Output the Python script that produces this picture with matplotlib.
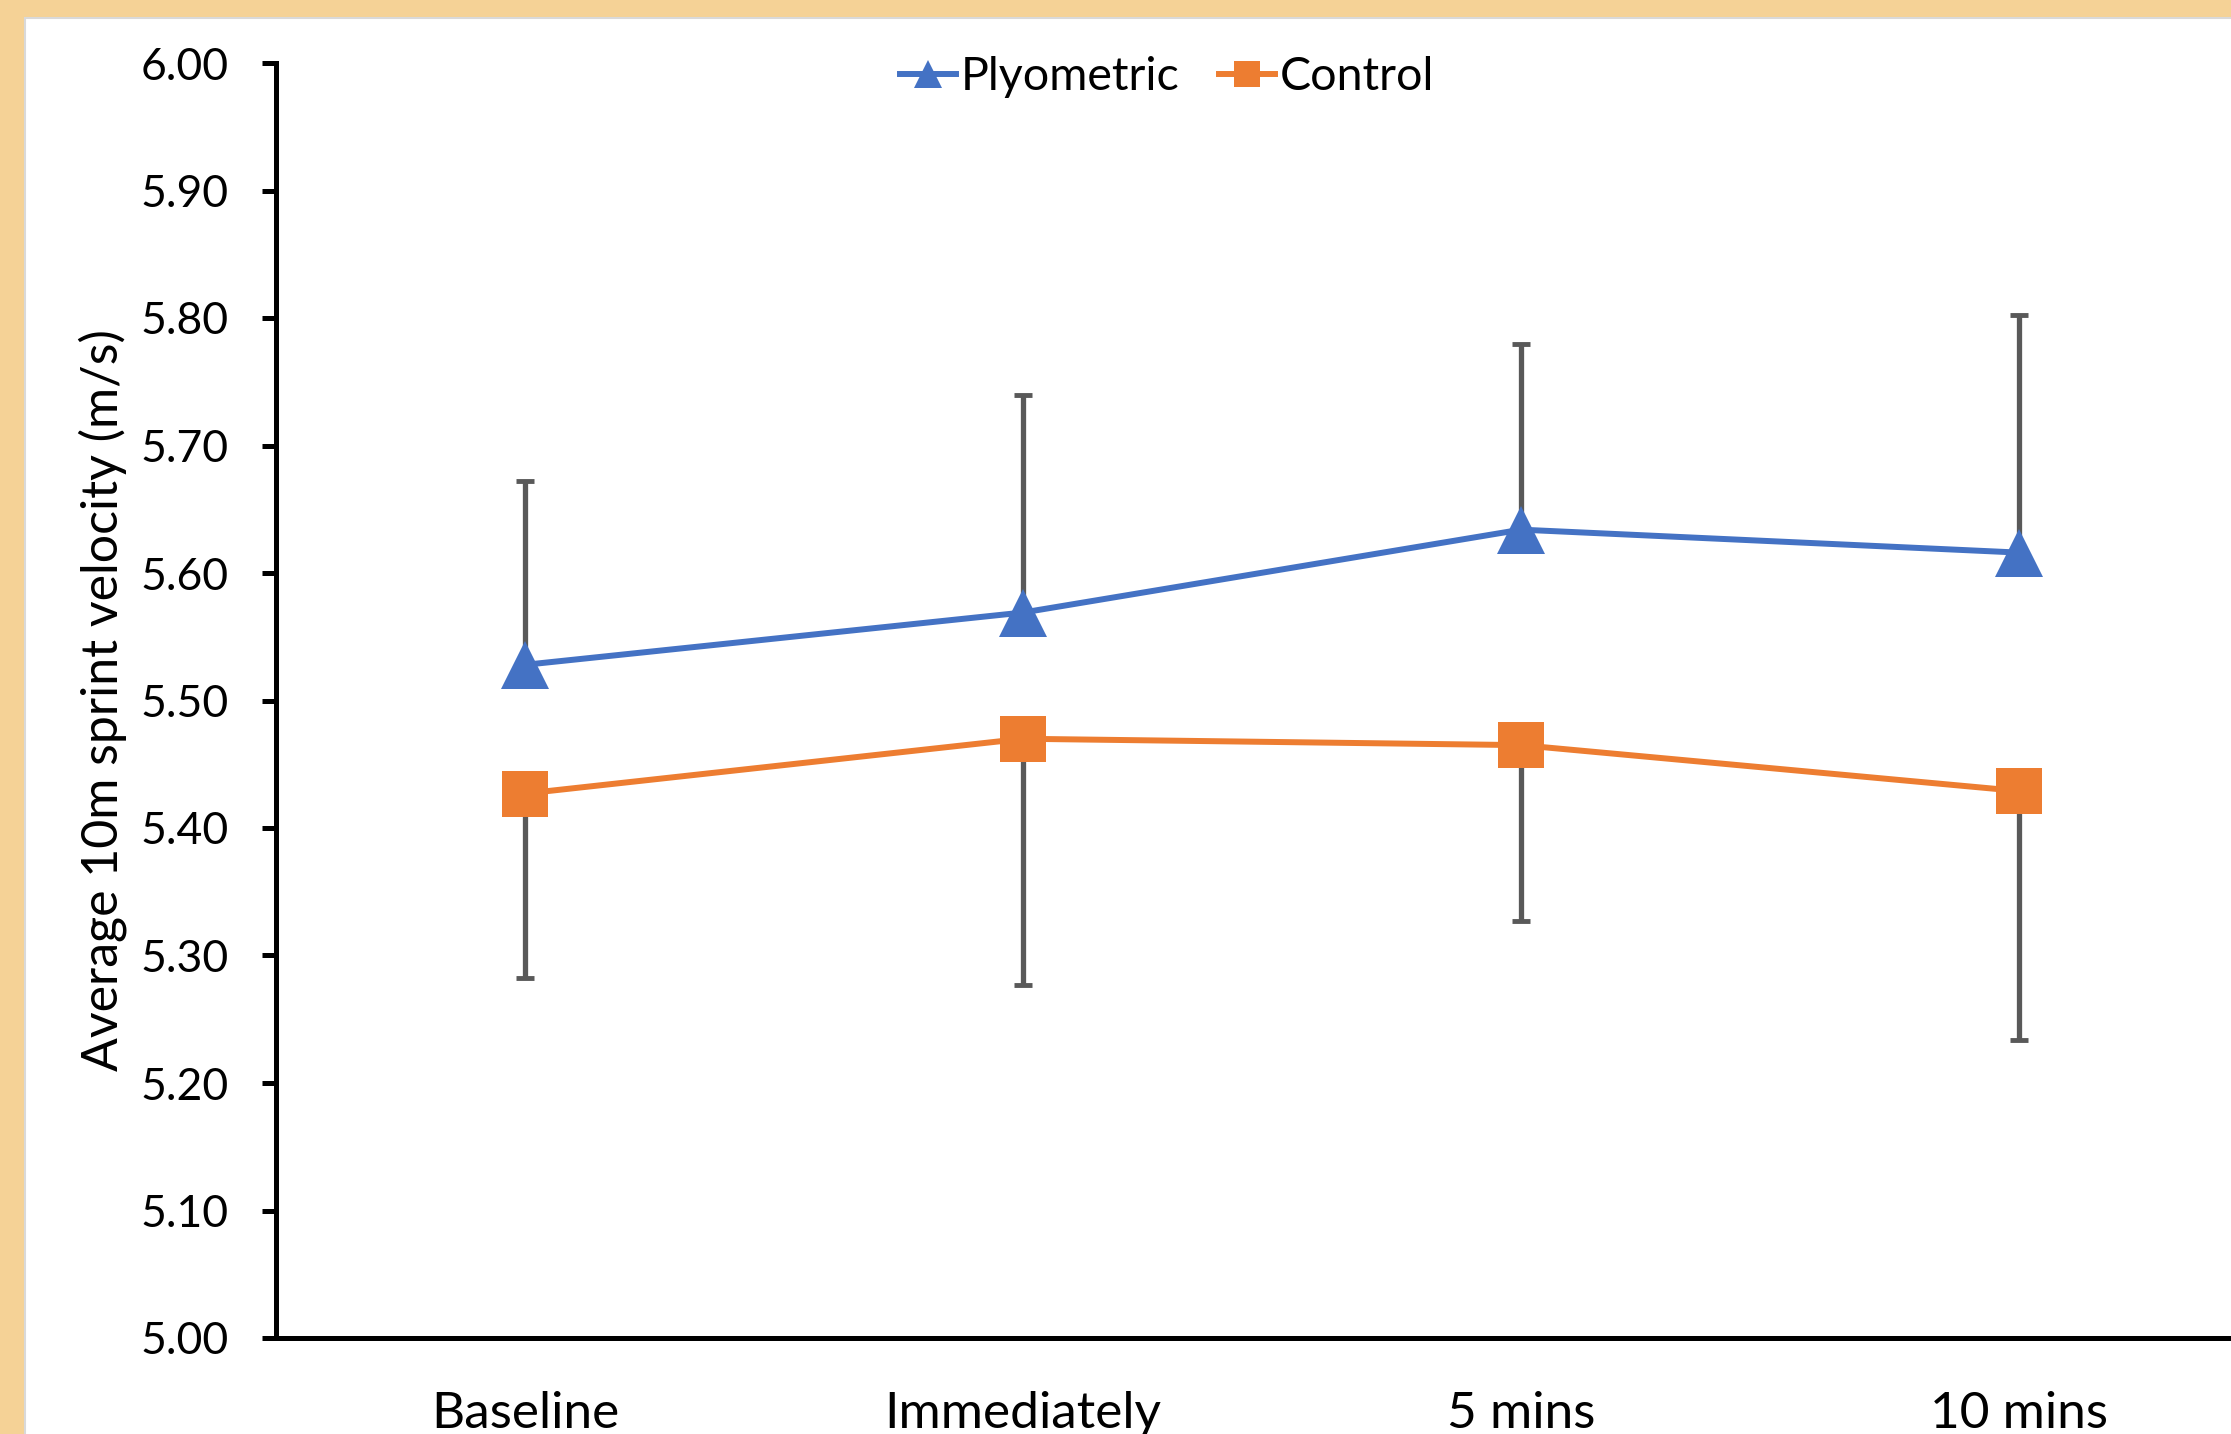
import matplotlib.pyplot as plt
from matplotlib.patches import Rectangle
from matplotlib.ticker import MultipleLocator, FormatStrFormatter

# data
timepoints = ["Baseline", "Immediately", "5 mins", "10 mins"]
plyo_mean = [5.528, 5.569, 5.634, 5.616]
plyo_err_up = [0.144, 0.171, 0.146, 0.186]
ctrl_mean = [5.427, 5.470, 5.465, 5.429]
ctrl_err_down = [0.145, 0.193, 0.138, 0.195]

blue = "#4472C4"
orange = "#ED7D31"
err_col = "#595959"
tan = "#F5D296"

plt.rcParams['font.family'] = ['Lato', 'DejaVu Sans']

dpi = 100
fig_w_px, fig_h_px = 2231, 1434
fig = plt.figure(figsize=(fig_w_px / dpi, fig_h_px / dpi), dpi=dpi)
fig.patch.set_facecolor(tan)

#white chart panel with a thin grey edge, behind the axes
panel_x, panel_top = 25, 18
fig.patches.append(Rectangle((panel_x / fig_w_px, -0.01), 1.0, 1 - panel_top / fig_h_px + 0.01,
                             transform=fig.transFigure, facecolor="white",
                             edgecolor="#D9D9D9", linewidth=1.5, zorder=-5))

#axes sized so the last category slot runs off the right edge, like the crop
left_px, bottom_px, top_px = 276, 96, 63
ax_w_px = 1992
ax_h_px = fig_h_px - bottom_px - top_px
ax = fig.add_axes([left_px / fig_w_px, bottom_px / fig_h_px, ax_w_px / fig_w_px, ax_h_px / fig_h_px])
ax.set_facecolor("none")

x = list(range(len(timepoints)))

ax.errorbar(x, plyo_mean, yerr=[[0] * len(x), plyo_err_up], fmt='none', ecolor=err_col,
            elinewidth=3.8, capsize=6.5, capthick=3.5, zorder=2)
ax.errorbar(x, ctrl_mean, yerr=[ctrl_err_down, [0] * len(x)], fmt='none', ecolor=err_col,
            elinewidth=3.8, capsize=6.5, capthick=3.5, zorder=2)

ax.plot(x, plyo_mean, color=blue, linewidth=4.3, marker='^', markersize=34,
        markeredgewidth=0, label="Plyometric", zorder=3, clip_on=False)
ax.plot(x, ctrl_mean, color=orange, linewidth=4.3, marker='s', markersize=33,
        markeredgewidth=0, label="Control", zorder=3, clip_on=False)

ax.set_xlim(-0.5, 3.5)
ax.set_ylim(5.0, 6.0)
ax.yaxis.set_major_locator(MultipleLocator(0.1))
ax.yaxis.set_major_formatter(FormatStrFormatter('%.2f'))
ax.set_xticks(x)
ax.set_xticklabels(timepoints)

for s in ["top", "right"]:
    ax.spines[s].set_visible(False)
for s in ["left", "bottom"]:
    ax.spines[s].set_linewidth(3.6)
    ax.spines[s].set_color("black")

ax.tick_params(axis='y', direction='out', length=10, width=3.6, pad=24, labelsize=32)
ax.tick_params(axis='x', length=0, pad=38, labelsize=37)

ax.set_ylabel("Average 10m sprint velocity (m/s)", fontsize=36, labelpad=10)

fig.legend(loc='center', bbox_to_anchor=(1167 / fig_w_px, 1 - 77 / fig_h_px), ncol=2,
           frameon=False, fontsize=33.5, handlelength=1.2, handletextpad=0.1,
           columnspacing=0.85, markerscale=0.58)

fig.savefig("out.png", dpi=dpi, facecolor=fig.get_facecolor())
